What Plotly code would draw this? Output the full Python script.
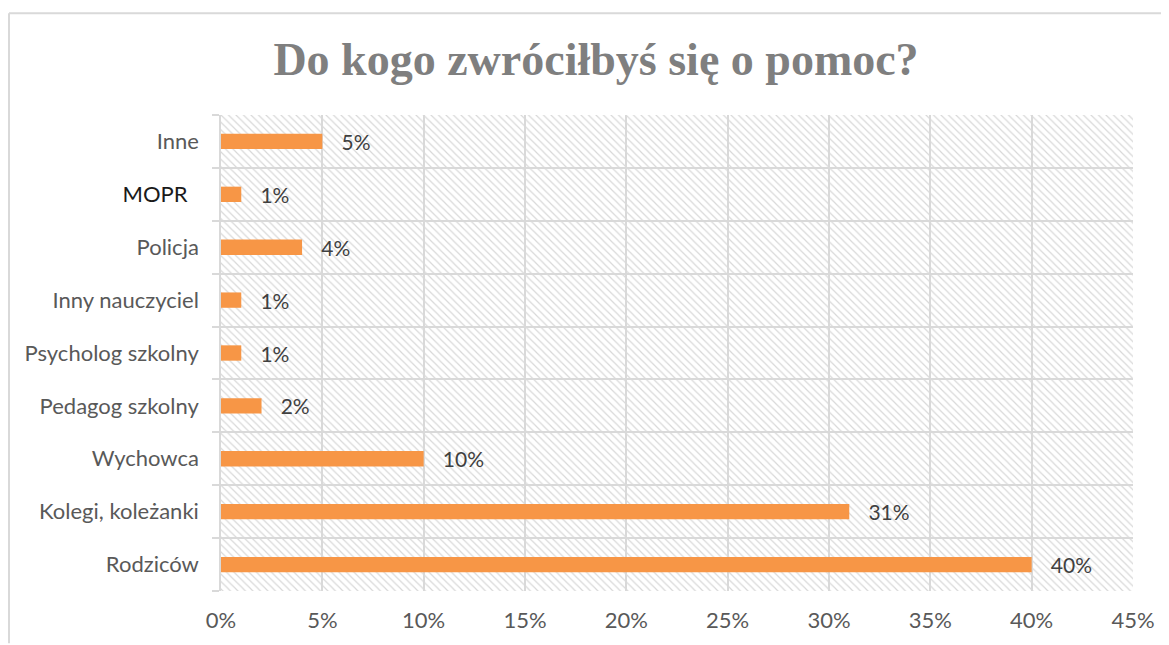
import base64
import plotly.graph_objects as go

# ---- data ----
categories = ["Rodziców", "Kolegi, koleżanki", "Wychowca", "Pedagog szkolny",
              "Psycholog szkolny", "Inny nauczyciel", "Policja", "MOPR", "Inne"]
values = [0.40, 0.31, 0.10, 0.02, 0.01, 0.01, 0.04, 0.01, 0.05]
x_ticks = [0, 0.05, 0.10, 0.15, 0.20, 0.25, 0.30, 0.35, 0.40, 0.45]
title_text = "Do kogo zwróciłbyś się o pomoc?"

# page has an 8px body margin: figure origin is at page (8, 8)
W, H = 1161, 637
L, R, T, B = 213, 36, 107, 48
pw, ph = W - L - R, H - T - B

FONT = "Lato, Liberation Sans, sans-serif"

# hatch background (decoration) as an SVG pattern image
svg = f'''<svg xmlns="http://www.w3.org/2000/svg" width="{pw}" height="{ph}">
<defs><pattern id="h" width="7.5" height="7.5" patternUnits="userSpaceOnUse">
<path d="M-1,-1 L8.5,8.5 M-8.5,-1 L1,8.5 M6.5,-1 L16,8.5" stroke="#d8d8d8" stroke-width="1.2"/>
</pattern></defs>
<rect width="100%" height="100%" fill="white"/>
<rect width="100%" height="100%" fill="url(#h)"/>
</svg>'''
src = "data:image/svg+xml;base64," + base64.b64encode(svg.encode()).decode()

ticktext = [c if c != "MOPR" else "<span style='color:#1a1a1a'>MOPR</span>&nbsp;&nbsp;" for c in categories]

fig = go.Figure(go.Bar(
    y=categories, x=values, orientation="h",
    marker=dict(color="#F79646", line=dict(width=0)),
    width=0.29,
    text=[f"{v:.0%}" for v in values],
    texttemplate="&nbsp;&nbsp;&nbsp;%{text}",
    textposition="outside",
    constraintext="none",
    textfont=dict(family=FONT, size=21, color="#404040"),
    cliponaxis=False,
    hoverinfo="skip",
))

fig.update_layout(
    width=W, height=H,
    margin=dict(l=L, r=R, t=T, b=B),
    paper_bgcolor="white",
    plot_bgcolor="rgba(0,0,0,0)",
    showlegend=False,
    title=dict(text=f"<b>{title_text}</b>", x=588 / W, xanchor="center",
               y=1 - 51 / H, yanchor="middle", yref="container",
               font=dict(family="Liberation Serif, serif", size=46, color="#7f7f7f")),
    images=[dict(source=src, xref="paper", yref="paper", x=0, y=1, sizex=1, sizey=1,
                 sizing="stretch", xanchor="left", yanchor="top", layer="below")],
    shapes=[
        dict(type="line", xref="paper", yref="paper", x0=(1 - L) / pw, x1=(W + 5 - L) / pw,
             y0=1 + (T - 4) / ph, y1=1 + (T - 4) / ph, line=dict(color="#d9d9d9", width=2)),
        dict(type="line", xref="paper", yref="paper", x0=(1 - L) / pw, x1=(1 - L) / pw,
             y0=1 + (T - 4) / ph, y1=-(B + 5) / ph, line=dict(color="#d9d9d9", width=2)),
    ],
    bargap=0.71,
)

fig.update_xaxes(
    range=[0, 0.45], tickvals=x_ticks, tickformat=".0%",
    showgrid=True, gridcolor="#d9d9d9", gridwidth=1.5,
    zeroline=False, showline=False, ticks="",
    ticklabelstandoff=14,
    tickfont=dict(family=FONT, size=22, color="#595959"),
)
fig.update_yaxes(
    type="category", categoryorder="array", categoryarray=categories,
    tickvals=categories, ticktext=ticktext,
    tickson="boundaries", ticks="outside", ticklen=7, tickcolor="#d9d9d9", tickwidth=1.5,
    showgrid=True, gridcolor="#d9d9d9", gridwidth=1.5,
    showline=True, linecolor="#d9d9d9", linewidth=1.5,
    ticklabelstandoff=16,
    tickfont=dict(family=FONT, size=22, color="#595959"),
)

fig.write_html("out.html")
